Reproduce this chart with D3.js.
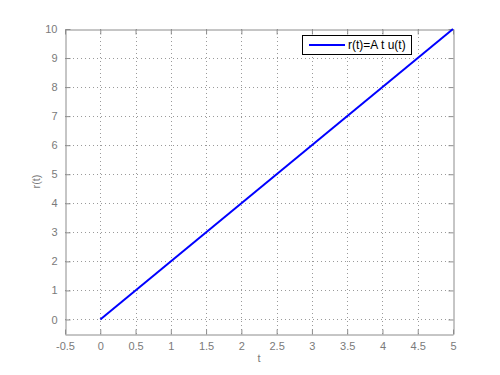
<!DOCTYPE html>
<html><head><meta charset="utf-8">
<script src="https://cdn.jsdelivr.net/npm/d3@7"></script>
<style>body{margin:0;background:#fff;}svg{display:block;}text{font-family:"Liberation Sans",Arial,sans-serif;}</style>
</head><body>
<svg id="c" width="500" height="375"></svg>
<script>
const tValues = [0, 5];
const rValues = [0, 10];
const xTicks = [-0.5, 0, 0.5, 1, 1.5, 2, 2.5, 3, 3.5, 4, 4.5, 5];
const yTicks = [0, 1, 2, 3, 4, 5, 6, 7, 8, 9, 10];
const legendLabel = "r(t)=A t u(t)";

const svg = d3.select("#c");
const L = 65, R = 453, T = 29, B = 334;
const x = d3.scaleLinear().domain([-0.5, 5]).range([L, R]);
const y = d3.scaleLinear().domain([-0.5, 10]).range([B, T]);
const axisCol = "#8c8c8c", textCol = "#7a7a7a";

// grid
const g = svg.append("g");
g.selectAll(".gx").data(xTicks.filter(d => d > -0.5 && d < 5)).enter().append("line")
  .attr("x1", d => Math.round(x(d)) + 0.5).attr("x2", d => Math.round(x(d)) + 0.5).attr("y1", T).attr("y2", B)
  .attr("stroke", "#9a9a9a").attr("stroke-width", 1).attr("stroke-dasharray", "1,3");
g.selectAll(".gy").data(yTicks.filter(d => d < 10)).enter().append("line")
  .attr("y1", d => Math.round(y(d)) + 0.5).attr("y2", d => Math.round(y(d)) + 0.5).attr("x1", L).attr("x2", R)
  .attr("stroke", "#9a9a9a").attr("stroke-width", 1).attr("stroke-dasharray", "1,3");

// axes
const ax = (gen, tx, ty, ticks, fmt) => {
  const a = svg.append("g").attr("transform", `translate(${tx},${ty})`)
    .call(gen.tickValues(ticks).tickSizeInner(-5).tickSizeOuter(0).tickPadding(8).tickFormat(fmt));
  a.select(".domain").attr("stroke", axisCol);
  a.selectAll(".tick line").attr("stroke", axisCol);
  a.selectAll("text").attr("fill", textCol).style("font-size", "11px").style("font-family", '"Liberation Sans",Arial,sans-serif');
  return a;
};
const fmt = d => String(d);
const blank = () => "";
ax(d3.axisBottom(x), 0, B + 0.5, xTicks, fmt);
ax(d3.axisLeft(y), L + 0.5, 0, yTicks, fmt);
ax(d3.axisTop(x), 0, T + 0.5, xTicks, blank);
ax(d3.axisRight(y), R + 0.5, 0, yTicks, blank);

// line
const pts = tValues.map((t, i) => [t, rValues[i]]);
svg.append("path").datum(pts)
  .attr("d", d3.line().x(d => x(d[0])).y(d => y(d[1])))
  .attr("fill", "none").attr("stroke", "#0000ff").attr("stroke-width", 2);

// labels
svg.append("text").attr("x", x(2.25)).attr("y", 362).attr("text-anchor", "middle")
  .attr("fill", textCol).style("font-size", "11px").text("t");
svg.append("text").attr("transform", `translate(40,${y(4.75)}) rotate(-90)`).attr("text-anchor", "middle")
  .attr("fill", textCol).style("font-size", "11px").text("r(t)");

// legend
const lg = svg.append("g");
lg.append("rect").attr("x", 302.5).attr("y", 35.5).attr("width", 109).attr("height", 19)
  .attr("fill", "#fff").attr("stroke", "#000").attr("stroke-width", 1);
lg.append("line").attr("x1", 309).attr("x2", 345).attr("y1", 45).attr("y2", 45)
  .attr("stroke", "#0000ff").attr("stroke-width", 2);
lg.append("text").attr("x", 348).attr("y", 49).attr("fill", "#000").style("font-size", "12px").text(legendLabel);
</script>
</body></html>
